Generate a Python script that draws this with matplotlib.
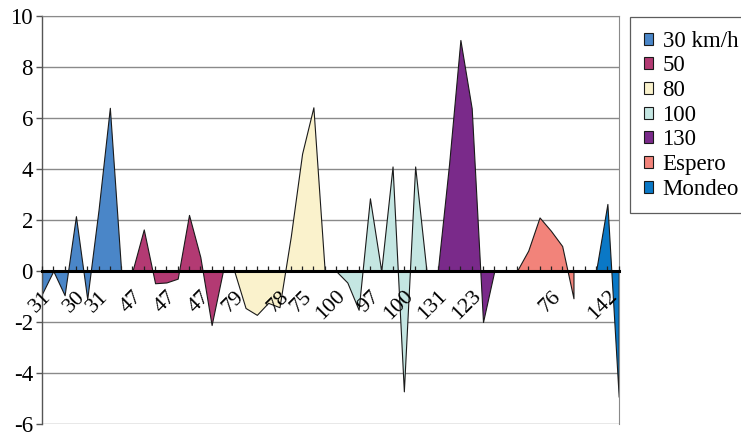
import numpy as np
import matplotlib.pyplot as plt

plt.rcParams['font.family'] = ['Liberation Serif', 'DejaVu Serif']
plt.rcParams['axes.unicode_minus'] = False

# Category axis: one slot per sample, most of them unlabelled
category_labels = ['31', '', '', '30', '', '31', '', '', '47', '', '',
                   '47', '', '', '47', '', '', '79', '', '', '', '78',
                   '', '75', '', '', '100', '', '', '97', '', '', '100',
                   '', '', '131', '', '', '123', '', '', '', '', '', '',
                   '76', '', '', '', '', '142', '']

series_names = ['30 km/h', '50', '80', '100', '130', 'Espero', 'Mondeo']
series_colors = ['#4a86c8', '#b33a73', '#faf2cc', '#c4e6e2', '#7a2a8a',
                 '#f2837a', '#0a78c6']

# Each series starts at a category index and runs over consecutive slots
kmh30_start, kmh30 = 0, [-0.9, 0.0, -0.95, 2.15, -1.1, 2.4, 6.4, 0.0]
kmh50_start, kmh50 = 8, [0.0, 1.63, -0.48, -0.45, -0.3, 2.2, 0.55, -2.12, 0.0]
kmh80_start, kmh80 = 17, [0.0, -1.45, -1.72, -1.25, -1.42, 1.35, 4.6, 6.42, 0.0]
kmh100_start, kmh100 = 26, [0.0, -0.45, -1.52, 2.85, 0.0, 4.1, -4.72, 4.1, 0.0]
kmh130_start, kmh130 = 35, [0.0, 4.2, 9.06, 6.38, -2.0, 0.0]
espero_start, espero = 42, [0.0, 0.8, 2.1, 1.58, 0.98, -1.07]
mondeo_start, mondeo = 49, [0.0, 2.63, -4.93]

starts = [kmh30_start, kmh50_start, kmh80_start, kmh100_start,
          kmh130_start, espero_start, mondeo_start]
values = [kmh30, kmh50, kmh80, kmh100, kmh130, espero, mondeo]

fig = plt.figure(figsize=(7.41, 4.36), dpi=100)
ax = fig.add_axes([42 / 741, 1 - 424 / 436, (618.7 - 42) / 741, 408 / 436])

for name, color, start, vals in zip(series_names, series_colors, starts, values):
    x = np.arange(start, start + len(vals))
    ax.fill_between(x, vals, 0, facecolor=color, edgecolor='#1a1a1a',
                    linewidth=0.8, label=name, zorder=1.2)

# category axis crosses at zero (moving the spine resets the ticks,
# so do it before setting the labels)
ax.spines['bottom'].set_position(('data', 0))
ax.spines['bottom'].set_color('black')
ax.spines['bottom'].set_linewidth(2.2)
ax.spines['bottom'].set_zorder(3)
ax.spines['left'].set_color('#555555')
ax.spines['left'].set_linewidth(1.0)
ax.spines['right'].set_color('#8a8a8a')
ax.spines['top'].set_color('#8a8a8a')

n = len(category_labels)
ax.set_xlim(0, n - 1)
ax.set_ylim(-6, 10)
yticks = np.arange(-6, 11, 2)
ax.set_yticks(yticks)
ax.set_xticks(np.arange(n))
ax.set_xticklabels(category_labels, rotation=45, ha='right', va='top',
                   rotation_mode='anchor', fontsize=16)

# horizontal gridlines behind the areas, ticks and labels on top
for yv in yticks:
    ax.axhline(yv, color='#8a8a8a', linewidth=1.0, zorder=0.5)
ax.set_axisbelow(False)

ax.tick_params(axis='x', direction='in', length=3.5, width=0.9,
               color='#222222', pad=11.5)
ax.tick_params(axis='y', direction='out', length=4.5, width=1.0,
               color='#555555', labelsize=16.5, pad=2)

leg = fig.legend(loc='upper left', bbox_to_anchor=(630 / 741, 1 - 17 / 436),
                 bbox_transform=fig.transFigure, fontsize=16.5, frameon=True,
                 fancybox=False, borderpad=0.6, labelspacing=0.16,
                 handlelength=0.42, handleheight=0.42, handletextpad=0.4,
                 borderaxespad=0)
leg.get_frame().set_edgecolor('#333333')
leg.get_frame().set_linewidth(0.9)

fig.savefig('out.png', dpi=100)
